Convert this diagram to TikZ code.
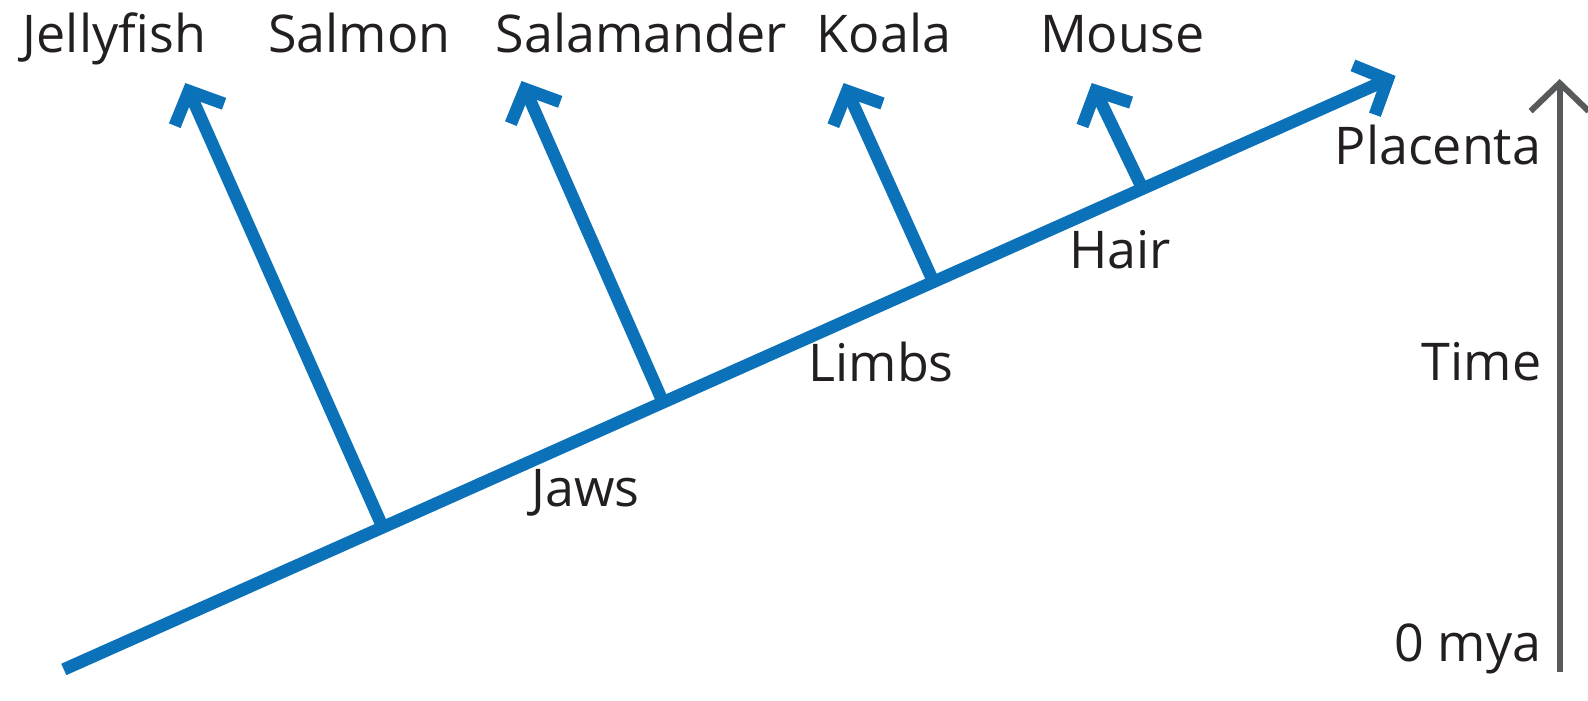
\documentclass[tikz,border=0pt]{standalone}
\usepackage{fontspec}
\setmainfont{Open Sans}
\usetikzlibrary{positioning, arrows.meta, calc}
\definecolor{cBlue}{HTML}{0B72BA}
\definecolor{cGray}{HTML}{58595B}
\definecolor{cText}{HTML}{231F20}

\begin{document}
\begin{tikzpicture}[
    x=1.0128pt, y=-1.0128pt,
    % --- Line styles ---
    spine/.style={line width=12.5pt, draw=cBlue,
        -{Straight Barb[length=26pt, width=54pt]}},
    branch/.style={spine},
    timeax/.style={line width=6pt, draw=cGray,
        -{Straight Barb[length=28pt, width=58pt]}},
    % --- Text styles ---
    lbl/.style={font=\fontsize{52}{60}\selectfont, text=cText,
        inner sep=0pt, anchor=base},
]
\useasboundingbox (0,0) rectangle (1568,692);

% =============================================
% SPINE
% =============================================
\coordinate (root) at (63,661);
\coordinate (top) at (1378,75);
\draw[spine] (root) -- (top);

% branch points on the spine
\coordinate (bJelly) at ($(root)!0.2395!(top)$);
\coordinate (bSala)  at ($(root)!0.450!(top)$);
\coordinate (bKoala) at ($(root)!0.653!(top)$);
\coordinate (bMouse) at ($(root)!0.810!(top)$);

% branch tips
\coordinate (tJelly) at (183,82);
\coordinate (tSala)  at (515,80);
\coordinate (tKoala) at (833,82);
\coordinate (tMouse) at (1078,82);

\draw[branch] (bJelly) -- (tJelly);
\draw[branch] (bSala) -- (tSala);
\draw[branch] (bKoala) -- (tKoala);
\draw[branch] (bMouse) -- (tMouse);

% =============================================
% TIME AXIS
% =============================================
\coordinate (t0) at (1540,664);
\coordinate (t1) at (1540,78);
\draw[timeax] (t0) -- (t1);

% =============================================
% LABELS
% =============================================
\node[lbl] (jelly) at (113,52) {Jellyfish};
\node[lbl] (salmon) at (355,52) {Salmon};
\node[lbl] (sala) at (633,52) {Salamander};
\node[lbl] (koala) at (873,52) {Koala};
\node[lbl] (mouse) at (1108,52) {Mouse};

\node[lbl] (jaws) at (578,500) {Jaws};
\node[lbl] (limbs) at (870,377) {Limbs};
\node[lbl] (hair) at (1106,265) {Hair};
\node[lbl, anchor=base east] (plac) at (1522,162) {Placenta};

\node[lbl, anchor=base east] (time) at (1522,376) {Time};
\node[lbl, anchor=base east] (zero) at (1522,653) {0 mya};

\end{tikzpicture}
\end{document}
